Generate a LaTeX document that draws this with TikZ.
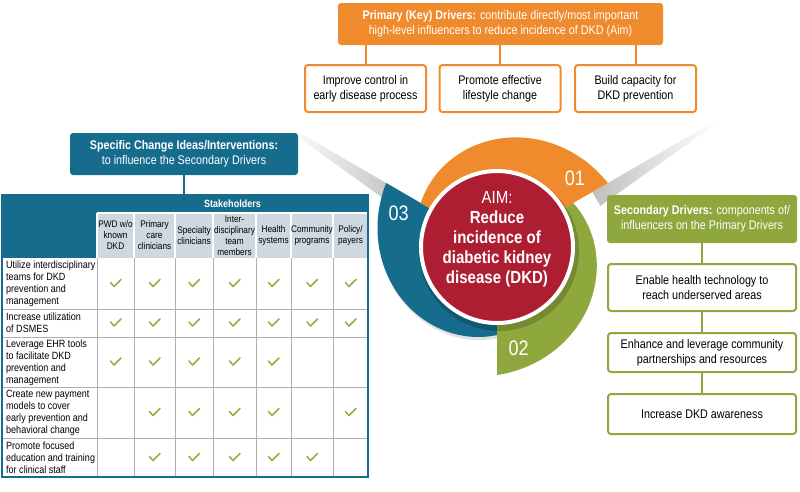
\documentclass[tikz,border=0pt]{standalone}
\usepackage{fontspec}
\setmainfont{Liberation Sans}[FakeStretch=0.86]
\usetikzlibrary{calc}
\definecolor{org}{RGB}{239,139,44}
\definecolor{tealb}{RGB}{22,108,140}
\definecolor{grn}{RGB}{142,168,62}
\definecolor{redc}{RGB}{174,30,50}
\definecolor{hdr}{RGB}{205,216,225}
\definecolor{chkc}{RGB}{141,179,58}
\definecolor{gridc}{RGB}{175,175,175}
\tikzset{
  headbox/.style={rounded corners=3pt, text=white, align=center, inner sep=0pt,
    font=\fontsize{12.5}{15}\selectfont},
  obox/.style={draw=org, line width=2pt, fill=white, rounded corners=3pt, align=center,
    inner sep=0pt, minimum width=121pt, minimum height=47pt, font=\fontsize{12.5}{15}\selectfont},
  gbox/.style={draw=grn, line width=2pt, fill=white, rounded corners=3pt, align=center,
    inner sep=0pt, minimum width=188pt, font=\fontsize{12.5}{15}\selectfont},
  oline/.style={draw=org, line width=2pt},
  gline/.style={draw=grn, line width=2pt},
  bline/.style={draw=tealb, line width=2pt},
  rowtext/.style={anchor=west, align=left, inner sep=0pt, font=\fontsize{10.5}{12}\selectfont},
  coltext/.style={align=center, inner sep=0pt, text=black, font=\fontsize{9.6}{11}\selectfont},
  numtext/.style={text=white, inner sep=0pt, font=\fontsize{21}{21}\selectfont},
  chk/.pic={\draw[chkc, line width=1.5pt, line cap=round, line join=round] (-5,-1) -- (-1.5,3) -- (5.5,-4);}
}
\begin{document}
\begin{tikzpicture}[x=1pt,y=-1pt]
\useasboundingbox (0,0) rectangle (800,491);

% ---------- light rays ----------
\shade[left color=white, right color=black!25]
  (289.2,127) -- (401.7,192) -- ($(401.7,192)+(-8,13.9)$) -- ($(289.2,127)+(-1.5,2.6)$) -- cycle;
\shade[left color=black!25, right color=white]
  (592.3,192) -- (713.5,122) -- ($(713.5,122)+(1.5,2.6)$) -- ($(592.3,192)+(8,13.9)$) -- cycle;

% ---------- coloured bands ----------
\fill[black, opacity=0.12] plot[domain=200:270, samples=40] ({498+(128-(\x-150)/3)*cos(\x)}, {250-(128-(\x-150)/3)*sin(\x)})
  -- (497,247) -- cycle;
\fill[tealb] plot[domain=150:270, samples=80] ({497+(128-(\x-150)/3)*cos(\x)}, {247-(128-(\x-150)/3)*sin(\x)})
  -- ({497+60*cos(270)},{247-60*sin(270)}) -- ({497+60*cos(150)},{247-60*sin(150)}) -- cycle;
\fill[org] plot[domain=30:150, samples=80] ({497+(128-(\x-30)/3)*cos(\x)}, {247-(128-(\x-30)/3)*sin(\x)})
  -- ({497+60*cos(150)},{247-60*sin(150)}) -- ({497+60*cos(30)},{247-60*sin(30)}) -- cycle;
\fill[grn] plot[domain=-90:30, samples=80] ({497+(128-(\x+90)/3)*cos(\x)}, {247-(128-(\x+90)/3)*sin(\x)})
  -- ({497+60*cos(30)},{247-60*sin(30)}) -- ({497+60*cos(-90)},{247-60*sin(-90)}) -- cycle;

\node[numtext] (n01) at ({497+104*cos(41.5)},{247-104*sin(41.5)}) {01};
\node[numtext] (n02) at ({497+104*cos(-78)},{247-104*sin(-78)}) {02};
\node[numtext] (n03) at ({497+104*cos(161)},{247-104*sin(161)}) {03};

% ---------- aim circle ----------
\fill[black, opacity=0.18] (499,251) circle (80);
\filldraw[fill=redc, draw=white, line width=4pt] (497,247) circle (76);
\node[text=white, align=center, inner sep=0pt, font=\fontsize{17.5}{20}\selectfont] (aim) at (497,239)
  {AIM:\\\textbf{Reduce}\\\textbf{incidence of}\\\textbf{diabetic kidney}\\\textbf{disease (DKD)}};

% ---------- primary drivers ----------
\node[headbox, fill=org, minimum width=325pt, minimum height=42pt] (prim) at (500.5,24)
  {\textbf{Primary (Key) Drivers:} contribute directly/most important\\high-level influencers to reduce incidence of DKD (Aim)};
\node[obox] (p1) at (365.5,88.5) {Improve control in\\early disease process};
\node[obox] (p2) at (500,88.5) {Promote effective\\lifestyle change};
\node[obox] (p3) at (635.5,88.5) {Build capacity for\\DKD prevention};
\foreach \b in {p1,p2,p3} \draw[oline] (prim.south -| \b.north) -- (\b.north);

% ---------- secondary drivers ----------
\node[headbox, fill=grn, minimum width=190pt, minimum height=48pt] (sec) at (702,219)
  {\textbf{Secondary Drivers:} components of/\\influencers on the Primary Drivers};
\node[gbox, minimum height=47pt] (s1) at (702,287.5) {Enable health technology to\\reach underserved areas};
\node[gbox, minimum height=39pt] (s2) at (702,352.5) {Enhance and leverage community\\partnerships and resources};
\node[gbox, minimum height=40pt] (s3) at (702,414) {Increase DKD awareness};
\draw[gline] (sec.south) -- (s1.north);
\draw[gline] (s1.south) -- (s2.north);
\draw[gline] (s2.south) -- (s3.north);

% ---------- change ideas ----------
\node[headbox, fill=tealb, minimum width=228pt, minimum height=42pt] (chg) at (184,154)
  {\textbf{Specific Change Ideas/Interventions:}\\to influence the Secondary Drivers};

% table fills
\fill[tealb] (2,195) rectangle (97,258);
\fill[tealb] (97,195) rectangle (368,213);
\fill[hdr] (97,213) rectangle (368,258);
\draw[white, line width=1.2pt] (97,213) -- (368,213);
\foreach \xx in {97,134,175,213,256,291,333} \draw[white, line width=1.2pt] (\xx,213) -- (\xx,258);
\foreach \yy in {309,337,387,438} \draw[gridc, line width=0.8pt] (2,\yy) -- (368,\yy);
\foreach \xx in {97,134,175,213,256,291,333} \draw[gridc, line width=0.8pt] (\xx,258) -- (\xx,477);
\node[draw=tealb, line width=2.5pt, minimum width=366pt, minimum height=282pt, inner sep=0pt] (tab) at (185,336) {};
\draw[bline] (chg.south) -- (chg.south |- tab.north);

\node[text=white, inner sep=0pt, font=\bfseries\fontsize{10.5}{12}\selectfont] (stk) at (232.5,204) {Stakeholders};
\node[coltext] (h1) at (115.5,235.5) {PWD w/o\\known\\DKD};
\node[coltext] (h2) at (154.5,235.5) {Primary\\care\\clinicians};
\node[coltext] (h3) at (194,235.5) {Specialty\\clinicians};
\node[coltext] (h4) at (234.5,235.5) {Inter-\\disciplinary\\team\\members};
\node[coltext] (h5) at (273.5,235.5) {Health\\systems};
\node[coltext] (h6) at (312,235.5) {Community\\programs};
\node[coltext] (h7) at (350.5,235.5) {Policy/\\payers};

\node[rowtext] (r1) at (6,284) {Utilize interdisciplinary\\teams for DKD\\prevention and\\management};
\node[rowtext] (r2) at (6,323) {Increase utilization\\of DSMES};
\node[rowtext] (r3) at (6,362.5) {Leverage EHR tools\\to facilitate DKD\\prevention and\\management};
\node[rowtext] (r4) at (6,412.5) {Create new payment\\models to cover\\early prevention and\\behavioral change};
\node[rowtext] (r5) at (6,457.5) {Promote focused\\education and training\\for clinical staff};

\foreach \cx in {115.5,154.5,194,234.5,273.5,312,350.5} {
  \pic at (\cx,283.5) {chk};
  \pic at (\cx,323) {chk};
}
\foreach \cx in {115.5,154.5,194,234.5,273.5} \pic at (\cx,362) {chk};
\foreach \cx in {154.5,194,234.5,273.5,350.5} \pic at (\cx,412.5) {chk};
\foreach \cx in {154.5,194,234.5,273.5,312} \pic at (\cx,457.5) {chk};
\end{tikzpicture}
\end{document}
